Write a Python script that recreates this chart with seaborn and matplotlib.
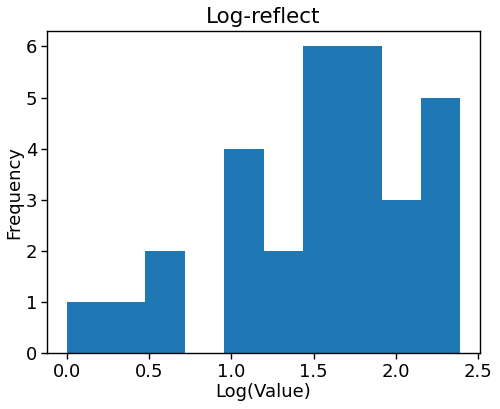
import matplotlib
matplotlib.use("Agg")
import matplotlib.pyplot as plt
import seaborn as sns

# log-transformed values (reflected)
log_values = [0.00, 0.30, 0.60, 0.70,
              1.00, 1.08, 1.11, 1.18,
              1.26, 1.34,
              1.46, 1.51, 1.56, 1.60, 1.62, 1.65,
              1.70, 1.74, 1.79, 1.83, 1.86, 1.90,
              1.96, 2.04, 2.10,
              2.20, 2.26, 2.30, 2.34, 2.39]
n_bins = 10

plt.rcParams['axes.linewidth'] = 1.0
plt.rcParams['xtick.major.size'] = 4.5
plt.rcParams['ytick.major.size'] = 4.5
plt.rcParams['xtick.major.width'] = 1.0
plt.rcParams['ytick.major.width'] = 1.0

fig = plt.figure(figsize=(5, 4.09), dpi=100)
ax = fig.add_axes([0.094, 0.137, 0.866, 0.787])

sns.histplot(x=log_values, bins=n_bins, color='#1f77b4', alpha=1, linewidth=0, ax=ax)

ax.set_title('Log-reflect', fontsize=15.5)
ax.set_xlabel('Log(Value)', fontsize=13, labelpad=2)
ax.set_ylabel('Frequency', fontsize=13, labelpad=2)
ax.tick_params(labelsize=13, pad=2.5)

fig.savefig('out.png', dpi=100)
